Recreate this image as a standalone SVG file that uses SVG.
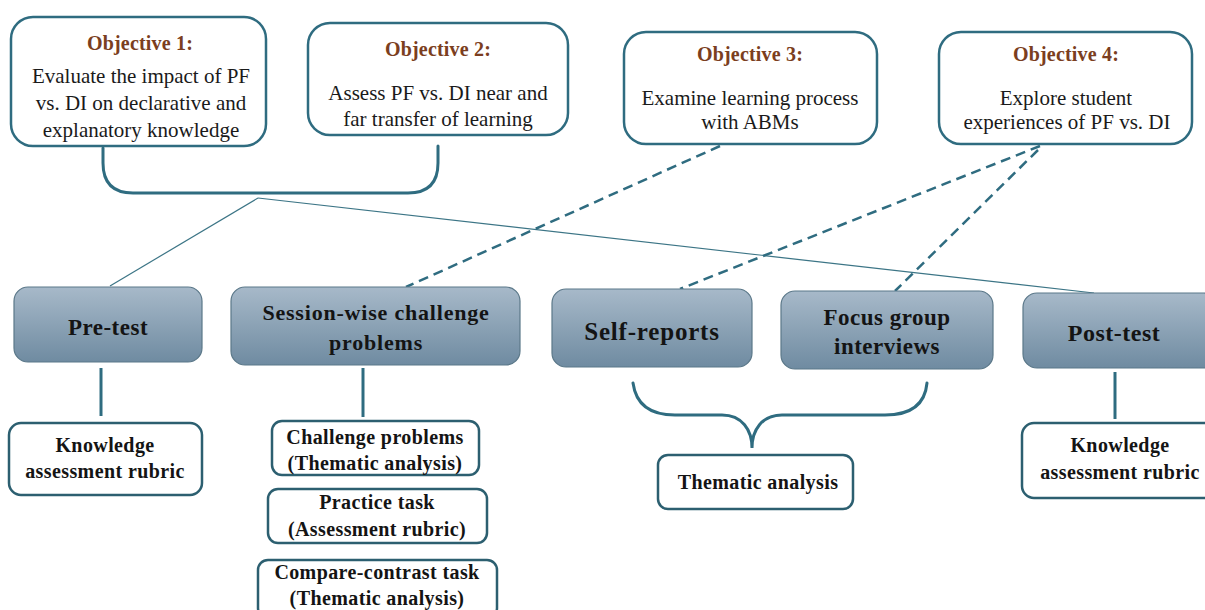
<svg xmlns="http://www.w3.org/2000/svg" width="1205" height="610" viewBox="0 0 1205 610">
<defs>
<linearGradient id="fillGrad" x1="0" y1="0" x2="0" y2="1">
<stop offset="0" stop-color="#a7b9c9"/>
<stop offset="1" stop-color="#6f8ba1"/>
</linearGradient>
<style>
.obj{fill:#ffffff;stroke:#2f6c80;stroke-width:2.5}
.wbox{fill:#ffffff;stroke:#2c5f70;stroke-width:2.5}
.fbox{fill:url(#fillGrad);stroke:#5b7889;stroke-width:1.2}
.title{font-family:"Liberation Serif","Times New Roman",serif;font-weight:bold;font-size:20px;fill:#7b3e20;text-anchor:middle;letter-spacing:0.2px}
.body{font-family:"Liberation Serif","Times New Roman",serif;font-size:21px;fill:#1a1a1a;text-anchor:middle}
.main{font-family:"Liberation Serif","Times New Roman",serif;font-weight:bold;font-size:23px;fill:#141414;text-anchor:middle;letter-spacing:0.5px}
.sub{font-family:"Liberation Serif","Times New Roman",serif;font-weight:bold;font-size:20px;fill:#141414;text-anchor:middle;letter-spacing:0.4px}
.brace{fill:none;stroke:#2f6c80;stroke-width:3;stroke-linecap:round}
.thin{fill:none;stroke:#3c7586;stroke-width:1.2}
.dash{fill:none;stroke:#2f6c80;stroke-width:2.5;stroke-dasharray:10 6}
.vert{fill:none;stroke:#2f6c80;stroke-width:3}
</style>
</defs>
<rect width="1205" height="610" fill="#ffffff"/>

<g id="connectors">
<path class="brace" d="M103,148 L103,163 Q103,193 133,193 L408,193 Q438,193 438,163 L438,146"/>
<line class="thin" x1="258" y1="198" x2="110" y2="286"/>
<line class="thin" x1="258" y1="198" x2="1094" y2="293"/>
<line class="dash" x1="720" y1="146" x2="406" y2="287"/>
<line class="dash" x1="1040" y1="146" x2="680" y2="289"/>
<line class="dash" x1="1038" y1="150" x2="895" y2="291"/>
<line class="vert" x1="101" y1="368" x2="101" y2="416"/>
<line class="vert" x1="363" y1="368" x2="363" y2="417"/>
<line class="vert" x1="1115" y1="372" x2="1115" y2="419"/>
<path class="brace" d="M633,383 C636,405 650,415 675,415 L722,415 C742,415 752,430 752,448 C752,430 762,415 782,415 L885,415 C910,415 925,405 927,383"/>
</g>

<g id="objective1">
<rect class="obj" x="11" y="17" width="255" height="129" rx="22"/>
<text class="title" x="140" y="50">Objective 1:</text>
<text class="body" x="141" y="83">Evaluate the impact of PF</text>
<text class="body" x="141" y="110">vs. DI on declarative and</text>
<text class="body" x="141" y="137">explanatory knowledge</text>
</g>

<g id="objective2">
<rect class="obj" x="308" y="23" width="260" height="112" rx="22"/>
<text class="title" x="438" y="56">Objective 2:</text>
<text class="body" x="438" y="100">Assess PF vs. DI near and</text>
<text class="body" x="438" y="126">far transfer of learning</text>
</g>

<g id="objective3">
<rect class="obj" x="624" y="32" width="253" height="112" rx="22"/>
<text class="title" x="750" y="61">Objective 3:</text>
<text class="body" x="750" y="105">Examine learning process</text>
<text class="body" x="750" y="129">with ABMs</text>
</g>

<g id="objective4">
<rect class="obj" x="939" y="32" width="253" height="112" rx="22"/>
<text class="title" x="1066" y="61">Objective 4:</text>
<text class="body" x="1066" y="105">Explore student</text>
<text class="body" x="1067" y="129">experiences of PF vs. DI</text>
</g>

<g id="pretest">
<rect class="fbox" x="14" y="287" width="188" height="75" rx="14"/>
<text class="main" x="108" y="335">Pre-test</text>
</g>

<g id="session">
<rect class="fbox" x="231" y="287" width="289" height="78" rx="14"/>
<text class="main" x="376" y="320" style="font-size:22px;letter-spacing:0.8px">Session-wise challenge</text>
<text class="main" x="376" y="350" style="font-size:22px;letter-spacing:0.8px">problems</text>
</g>

<g id="selfreports">
<rect class="fbox" x="552" y="289" width="200" height="78" rx="14"/>
<text class="main" x="652" y="340" style="font-size:25px;letter-spacing:0.8px">Self-reports</text>
</g>

<g id="focusgroup">
<rect class="fbox" x="781" y="291" width="212" height="78" rx="14"/>
<text class="main" x="887" y="325">Focus group</text>
<text class="main" x="887" y="354">interviews</text>
</g>

<g id="posttest">
<rect class="fbox" x="1023" y="293" width="195" height="75" rx="14"/>
<text class="main" x="1114" y="341" style="font-size:24px">Post-test</text>
</g>

<g id="knowledge-left">
<rect class="wbox" x="9" y="423" width="193" height="72" rx="12"/>
<text class="sub" x="105" y="452">Knowledge</text>
<text class="sub" x="105" y="478">assessment rubric</text>
</g>

<g id="challenge">
<rect class="wbox" x="272" y="421" width="207" height="54" rx="10"/>
<text class="sub" x="375" y="444">Challenge problems</text>
<text class="sub" x="375" y="470">(Thematic analysis)</text>
</g>

<g id="practice">
<rect class="wbox" x="268" y="489" width="219" height="54" rx="10"/>
<text class="sub" x="377" y="509">Practice task</text>
<text class="sub" x="377" y="536">(Assessment rubric)</text>
</g>

<g id="compare">
<rect class="wbox" x="258" y="560" width="239" height="58" rx="10"/>
<text class="sub" x="377" y="579">Compare-contrast task</text>
<text class="sub" x="377" y="605">(Thematic analysis)</text>
</g>

<g id="thematic">
<rect class="wbox" x="658" y="455" width="195" height="54" rx="10"/>
<text class="sub" x="758" y="489">Thematic analysis</text>
</g>

<g id="knowledge-right">
<rect class="wbox" x="1022" y="423" width="195" height="75" rx="12"/>
<text class="sub" x="1120" y="452">Knowledge</text>
<text class="sub" x="1120" y="479">assessment rubric</text>
</g>
</svg>
